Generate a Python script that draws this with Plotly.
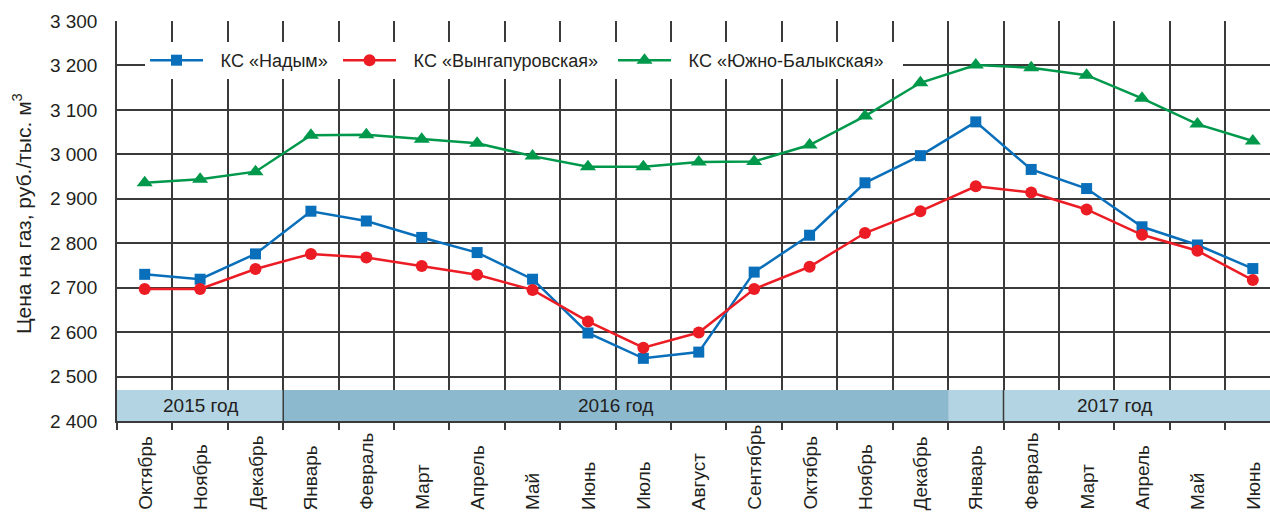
import plotly.graph_objects as go

months = ["Октябрь", "Ноябрь", "Декабрь", "Январь", "Февраль", "Март", "Апрель",
          "Май", "Июнь", "Июль", "Август", "Сентябрь", "Октябрь", "Ноябрь",
          "Декабрь", "Январь", "Февраль", "Март", "Апрель", "Май", "Июнь"]

nadym = [2730, 2719, 2776, 2872, 2850, 2813, 2779, 2719, 2598, 2541, 2555,
         2735, 2818, 2936, 2997, 3073, 2966, 2923, 2837, 2796, 2743]
vyngapur = [2697, 2697, 2742, 2776, 2768, 2749, 2729, 2695, 2624, 2565, 2599,
            2697, 2747, 2823, 2872, 2928, 2914, 2876, 2819, 2783, 2717]
yuzhno = [2936, 2944, 2961, 3043, 3044, 3034, 3025, 2996, 2972, 2972, 2983,
          2984, 3021, 3086, 3161, 3201, 3195, 3178, 3126, 3068, 3030]

series_names = ["КС «Надым»", "КС «Вынгапуровская»", "КС «Южно-Балыкская»"]
y_ticks = [2400, 2500, 2600, 2700, 2800, 2900, 3000, 3100, 3200, 3300]
y_ticktext = ["2 400", "2 500", "2 600", "2 700", "2 800", "2 900", "3 000", "3 100", "3 200", "3 300"]

years = ["2015 год", "2016 год", "2017 год"]
year_start = [-0.5, 2.5, 14.5]
year_end = [2.5, 14.5, 20.5]
year_label_x = [1, 8.5, 17.5]
year_colors = ["#b3d4e3", "#8db9cf", "#b3d4e3"]

TXT = "#231f20"
GRID = "#3a3a3a"
FONT = "Liberation Sans, Arial, sans-serif"

x = list(range(len(months)))

fig = go.Figure()
styles = [
    (nadym, "#0a6fba", "square", 11, 125),
    (vyngapur, "#ec1c24", "circle", 12, 207),
    (yuzhno, "#00994c", "triangle-up", 14, 222),
]
for (vals, col, sym, sz, lw), name in zip(styles, series_names):
    fig.add_trace(go.Scatter(
        x=x, y=vals, name="\u2002\u2009" + name, mode="lines+markers",
        line=dict(color=col, width=2.5),
        marker=dict(symbol=sym, size=sz, color=col),
        legendwidth=lw,
    ))

shapes = []
for s, e, c in zip(year_start, year_end, year_colors):
    shapes.append(dict(type="rect", xref="x", yref="y", x0=s, x1=e, y0=2400, y1=2470,
                       fillcolor=c, line=dict(width=0), layer="above"))
for bx in [2.5, 15.5]:
    shapes.append(dict(type="line", xref="x", yref="y", x0=bx, x1=bx, y0=2400, y1=2470,
                       line=dict(color=GRID, width=1.5), layer="above"))

annotations = []
for lx, t in zip(year_label_x, years):
    annotations.append(dict(x=lx, y=2435, xref="x", yref="y", text=t, showarrow=False,
                            font=dict(size=19, color=TXT, family=FONT),
                            xanchor="center", yanchor="middle"))
for i, m in enumerate(months):
    annotations.append(dict(x=i, y=0, xref="x", yref="paper", text=m, showarrow=False,
                            textangle=-90, xanchor="center", yanchor="bottom", yshift=-91,
                            font=dict(size=19, color=TXT, family=FONT)))
annotations.append(dict(x=0, y=0.5175, xref="paper", yref="paper",
                        text="Цена на газ, руб./тыс. м<sup>3</sup>", showarrow=False,
                        textangle=-90, xanchor="center", yanchor="middle", xshift=-95,
                        font=dict(size=21, color=TXT, family=FONT)))

boundaries = [k - 0.5 for k in range(len(months) + 1)]

fig.update_layout(
    width=1270, height=512,
    margin=dict(l=117, r=0, t=21, b=91, pad=0),
    paper_bgcolor="white", plot_bgcolor="white",
    font=dict(family=FONT, color=TXT, size=19),
    showlegend=True,
    legend=dict(orientation="h", x=0.0243, xanchor="left", y=0.9475, yanchor="top",
                bgcolor="white", borderwidth=0, font=dict(size=18, color=TXT, family=FONT),
                itemwidth=53, tracegroupgap=0),
    shapes=shapes,
    annotations=annotations,
)
fig.update_xaxes(range=[-0.5, 20.31], tickmode="array", tickvals=boundaries,
                 showticklabels=False, ticks="outside", ticklen=7, tickwidth=1.5,
                 tickcolor=GRID, showgrid=True, gridcolor=GRID, gridwidth=1.5,
                 zeroline=False, showline=True, linecolor=GRID, linewidth=1.5)
fig.update_yaxes(range=[2400, 3300], tickmode="array", tickvals=y_ticks, ticktext=y_ticktext,
                 ticks="", showgrid=True, gridcolor=GRID, gridwidth=1.5, zeroline=False,
                 showline=True, linecolor=GRID, linewidth=1.5, ticklabelstandoff=14,
                 tickfont=dict(size=19, color=TXT, family=FONT))

fig.write_html("out.html")
